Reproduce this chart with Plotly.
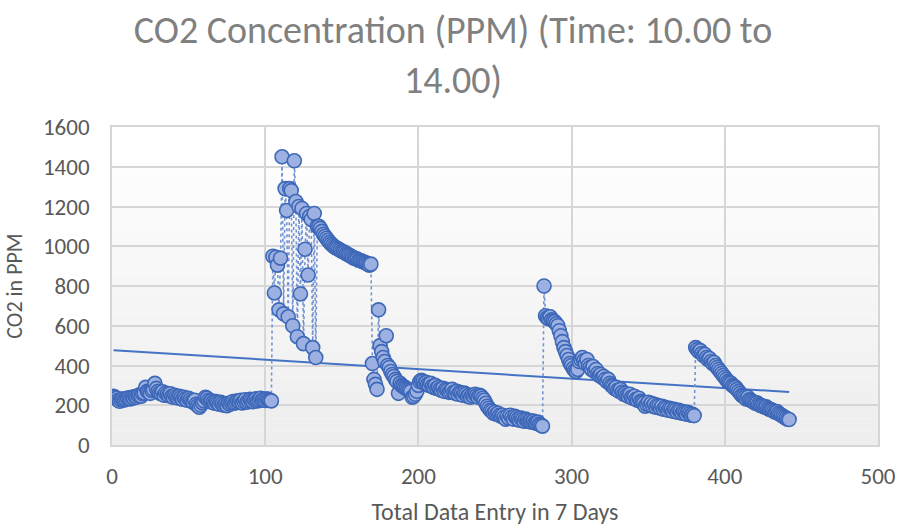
import numpy as np
import plotly.graph_objects as go

# ---- data ----
day_1_2_low = [
    245, 240, 235, 225, 220, 228, 232, 226, 230, 235,
    238, 232, 240, 236, 244, 240, 248, 252, 246, 258,
    262, 290, 270, 266, 260, 274, 280, 310, 285, 270,
    262, 258, 268, 250, 262, 255, 248, 258, 245, 240,
    250, 242, 236, 245, 238, 230, 240, 232, 225, 235,
    228, 220, 215, 225, 205, 198, 190, 200, 212, 222,
    240, 235, 225, 218, 222, 215, 210, 218, 212, 205,
    215, 208, 200, 205, 198, 210, 205, 212, 218, 210,
    215, 222, 218, 225, 212, 220, 228, 215, 222, 230,
    225, 218, 226, 232, 222, 228, 235, 226, 230, 224,
    232, 228, 225, 222,
]
day_3_peak = [
    950, 765, 945, 905, 680, 940, 1450, 660, 1290, 1180,
    645, 1290, 1280, 600, 1430, 1225, 545, 1200, 760, 1190,
    510, 985, 1165, 855, 1150, 1135, 490, 1165, 440, 1100,
    1100, 1090, 1075, 1060, 1050, 1040, 1030, 1020, 1012, 1005,
    998, 992, 990, 985, 980, 975, 972, 968, 962, 958,
    955, 950, 945, 940, 938, 935, 930, 928, 925, 922,
    918, 915, 910, 905, 910,
]
day_4_5 = [
    410, 330, 305, 280, 680, 500, 470, 440, 420, 550,
    400, 390, 370, 355, 345, 330, 320, 260, 310, 300,
    295, 290, 285, 280, 275, 270, 240, 245, 255, 270,
    300, 320, 325, 320, 310, 315, 305, 300, 310, 295,
    290, 300, 285, 290, 280, 275, 285, 270, 280, 275,
    265, 270, 280, 265, 260, 270, 255, 265, 260, 250,
    262, 255, 245, 250, 240, 250, 245, 255, 248, 240,
    250, 245, 235, 225, 210, 195, 185, 175, 170, 160,
    165, 155, 160, 150, 145, 150, 140, 130, 145, 135,
    150, 140, 130, 145, 138, 130, 125, 135, 128, 120,
    130, 125, 118, 122, 115, 120, 112, 110, 115, 105,
    100, 95,
]
day_6 = [
    800, 650, 640, 635, 645, 630, 625, 620, 610, 600,
    575, 550, 520, 490, 470, 450, 430, 410, 400, 385,
    375, 370, 380, 420, 430, 440, 425, 410, 430, 400,
    390, 380, 395, 370, 380, 360, 350, 355, 340, 345,
    330, 320, 330, 310, 300, 295, 285, 290, 275, 270,
    280, 265, 255, 260, 250, 245, 255, 240, 235, 245,
    230, 225, 235, 220, 215, 210, 195, 205, 215, 200,
    210, 195, 205, 190, 200, 195, 185, 195, 180, 190,
    185, 175, 185, 180, 170, 180, 175, 165, 175, 170,
    160, 168, 162, 155, 165, 158, 150, 155, 148,
]
day_7 = [
    490, 480, 470, 475, 460, 450, 455, 440, 430, 435,
    420, 410, 415, 400, 390, 380, 370, 360, 350, 340,
    330, 320, 315, 310, 300, 295, 290, 280, 270, 260,
    250, 245, 240, 232, 240, 228, 225, 220, 215, 210,
    212, 205, 200, 198, 195, 190, 192, 185, 180, 178,
    175, 170, 165, 168, 160, 155, 150, 145, 140, 135,
    130, 128,
]

co2_ppm = day_1_2_low + day_3_peak + day_4_5 + day_6 + day_7
entry = list(range(1, len(co2_ppm) + 1))

x_ticks = [0, 100, 200, 300, 400, 500]
y_ticks = [0, 200, 400, 600, 800, 1000, 1200, 1400, 1600]

title_text = "CO2 Concentration (PPM) (Time: 10.00 to<br>14.00)"
x_title = "Total Data Entry in 7 Days"
y_title = "CO2 in PPM"

# ---- linear trendline through the data ----
xa = np.array(entry, dtype=float)
ya = np.array(co2_ppm, dtype=float)
slope, intercept = np.polyfit(xa, ya, 1)
trend_x = [xa.min(), xa.max()]
trend_y = [intercept + slope * v for v in trend_x]

FONT = "Calibri, Carlito, Lato, sans-serif"
BLUE = "#4472C4"

fig = go.Figure()
fig.add_trace(go.Scatter(
    x=trend_x, y=trend_y, mode="lines",
    line=dict(color=BLUE, width=2), hoverinfo="skip", showlegend=False,
))
fig.add_trace(go.Scatter(
    x=entry, y=co2_ppm, mode="lines+markers",
    line=dict(color="#7393D3", width=1.6, dash="dot"),
    marker=dict(size=14, color="#9CB1E2", line=dict(color="#3E68B8", width=1.6)),
    showlegend=False,
))

# subtle vertical gradient of the plot area (white at top, light grey at bottom)
n_bands = 24
shapes = []
for i in range(n_bands):
    t = i / (n_bands - 1)
    g = int(round(238 + (255 - 238) * t))
    shapes.append(dict(
        type="rect", xref="x domain", yref="y domain",
        x0=0, x1=1, y0=i / n_bands, y1=(i + 1) / n_bands,
        fillcolor=f"rgb({g},{g},{g})", line=dict(width=0), layer="below",
    ))

fig.update_layout(
    width=906, height=527,
    margin=dict(l=112, r=28, t=127, b=82, autoexpand=False),
    paper_bgcolor="white", plot_bgcolor="white",
    shapes=shapes,
    title=dict(
        text=title_text, x=0.5, xanchor="center", xref="container",
        y=0.918, yanchor="top",
        font=dict(family=FONT, size=38, color="#808080"),
    ),
    font=dict(family=FONT, color="#595959"),
)
fig.update_xaxes(
    range=[0, 500], tickvals=x_ticks, ticks="", ticklabelstandoff=10,
    automargin=False,
    showgrid=True, gridcolor="#D6D6D6", gridwidth=1.6,
    showline=True, linecolor="#D6D6D6", linewidth=1.6, mirror=True,
    zeroline=False, tickfont=dict(family=FONT, size=23, color="#595959"),
    title=dict(text=x_title, font=dict(family=FONT, size=24, color="#595959"), standoff=14),
)
fig.update_yaxes(
    range=[0, 1600], tickvals=y_ticks, ticks="", ticklabelstandoff=16,
    automargin=False,
    showgrid=True, gridcolor="#D6D6D6", gridwidth=1.6,
    showline=True, linecolor="#D6D6D6", linewidth=1.6, mirror=True,
    zeroline=False, tickfont=dict(family=FONT, size=23, color="#595959"),
    title=dict(text=y_title, font=dict(family=FONT, size=22, color="#595959"), standoff=14),
)

fig.write_html("out.html")
